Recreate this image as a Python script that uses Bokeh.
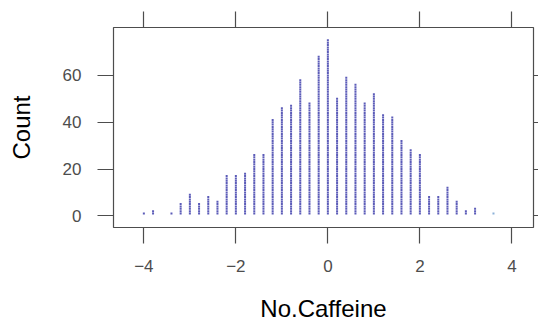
from bokeh.plotting import figure
from bokeh.models import LinearAxis, Range1d, FixedTicker, ColumnDataSource
from bokeh.embed import file_html
from bokeh.resources import INLINE

# ---- data ----
bin_centers = [-4.0, -3.8, -3.4, -3.2, -3.0, -2.8, -2.6, -2.4, -2.2, -2.0,
               -1.8, -1.6, -1.4, -1.2, -1.0, -0.8, -0.6, -0.4, -0.2, 0.0,
               0.2, 0.4, 0.6, 0.8, 1.0, 1.2, 1.4, 1.6, 1.8, 2.0,
               2.2, 2.4, 2.6, 2.8, 3.0, 3.2, 3.6]
bin_counts = [1, 2, 1, 5, 9, 5, 8, 6, 17, 17,
              18, 26, 26, 41, 46, 47, 58, 48, 68, 75,
              50, 59, 56, 48, 52, 43, 42, 32, 28, 26,
              8, 8, 12, 6, 2, 3, 1]
bin_colors = ["#4a4ab0"] * 36 + ["#7fa9d4"]

x_ticks = [-4, -2, 0, 2, 4]
x_tick_labels = ["\u22124", "\u22122", "0", "2", "4"]
y_ticks = [0, 20, 40, 60]
y_tick_labels = ["0", "20", "40", "60"]

# expand each bin into a stack of dots at 1..count
px, py, pc = [], [], []
for xc, n, c in zip(bin_centers, bin_counts, bin_colors):
    for k in range(1, n + 1):
        px.append(xc)
        py.append(k)
        pc.append(c)
src = ColumnDataSource(dict(x=px, y=py, c=pc))

AX = "#4d4d4d"
FONT = "Liberation Sans"

p = figure(width=538, height=324, output_backend="svg", toolbar_location=None,
           x_range=Range1d(-4.66, 4.47), y_range=Range1d(-5.0, 80.5),
           x_axis_location=None, y_axis_location=None,
           min_border_left=113, min_border_right=5,
           min_border_top=27, min_border_bottom=97)
p.grid.visible = False
p.outline_line_color = AX
p.outline_line_width = 1.2
p.background_fill_color = "white"
p.border_fill_color = "white"

p.scatter("x", "y", source=src, marker="square", size=2.0,
          fill_color="c", fill_alpha=0.9, line_color=None)

def style(ax, tick_out=16):
    ax.axis_line_color = None
    ax.major_tick_line_color = AX
    ax.major_tick_line_width = 1.2
    ax.major_tick_out = tick_out
    ax.major_tick_in = 0
    ax.minor_tick_line_color = None
    ax.major_label_text_font = FONT
    ax.major_label_text_color = AX
    ax.axis_label_text_font = FONT
    ax.axis_label_text_font_style = "normal"
    ax.axis_label_text_color = "black"

left = LinearAxis(ticker=FixedTicker(ticks=y_ticks), axis_label="Count",
                  major_label_overrides={t: s for t, s in zip(y_ticks, y_tick_labels)})
style(left)
left.major_label_text_font_size = "17px"
left.major_label_standoff = 16
left.axis_label_text_font_size = "24px"
left.axis_label_standoff = 25
p.add_layout(left, "left")

bottom = LinearAxis(ticker=FixedTicker(ticks=x_ticks), axis_label="No.Caffeine",
                    major_label_overrides={t: s for t, s in zip(x_ticks, x_tick_labels)})
style(bottom)
bottom.major_label_text_font_size = "17px"
bottom.major_label_standoff = 16
bottom.axis_label_text_font_size = "24px"
bottom.axis_label_standoff = 20
p.add_layout(bottom, "below")

top = LinearAxis(ticker=FixedTicker(ticks=x_ticks),
                 major_label_overrides={t: "" for t in x_ticks})
style(top)
top.major_label_standoff = 0
p.add_layout(top, "above")

right = LinearAxis(ticker=FixedTicker(ticks=y_ticks),
                   major_label_overrides={t: "" for t in y_ticks})
style(right, tick_out=5)
right.major_label_standoff = 0
p.add_layout(right, "right")

open("out.html", "w").write(file_html(p, INLINE))
